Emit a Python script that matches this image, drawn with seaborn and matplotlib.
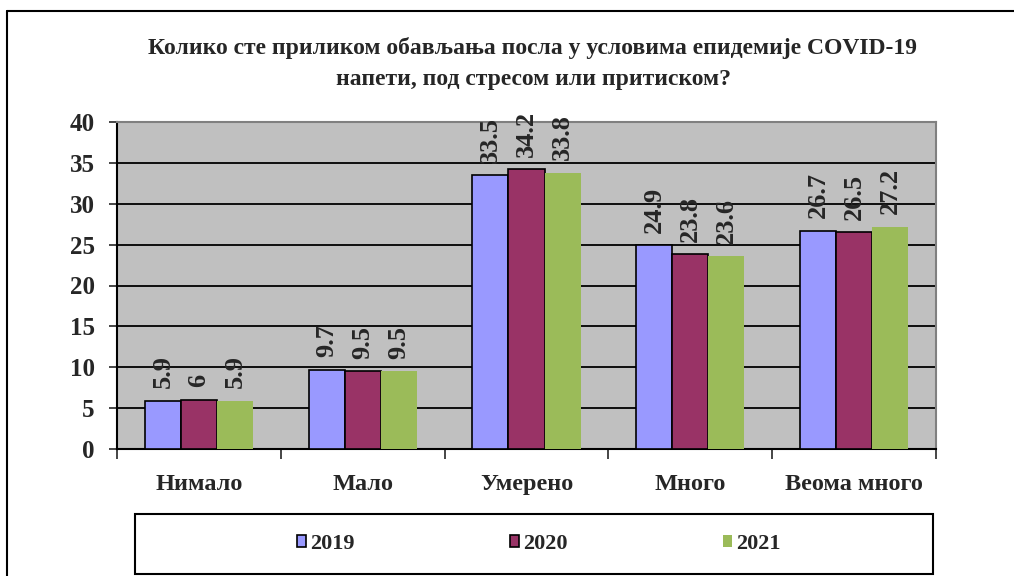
import pandas as pd
import matplotlib.pyplot as plt
import matplotlib.patches as mpatches
from matplotlib.lines import Line2D
import seaborn as sns

# Data
categories = ['Нимало', 'Мало', 'Умерено', 'Много', 'Веома много']
years = ['2019', '2020', '2021']
v2019 = [5.9, 9.7, 33.5, 24.9, 26.7]
v2020 = [6, 9.5, 34.2, 23.8, 26.5]
v2021 = [5.9, 9.5, 33.8, 23.6, 27.2]
colors = ['#9999FF', '#993366', '#9BBB59']
edges = ['black', 'black', 'none']

df = pd.DataFrame({
    'category': categories * 3,
    'year': [y for y in years for _ in categories],
    'value': v2019 + v2020 + v2021,
})

sns.set_style('white')
plt.rcParams['font.family'] = ['Liberation Serif', 'DejaVu Serif']
plt.rcParams['font.weight'] = 'bold'

fig = plt.figure(figsize=(10.14, 5.76), dpi=100)
ax = fig.add_axes([117 / 1014, 1 - 449 / 576, 819 / 1014, 327 / 576])
ax.set_facecolor('#C0C0C0')

sns.barplot(data=df, x='category', y='value', hue='year', order=categories,
            hue_order=years, palette=colors, width=0.66, saturation=1,
            edgecolor='black', linewidth=1.2, legend=False, ax=ax, zorder=3)

for cont, ec in zip(ax.containers, edges):
    for p in cont:
        p.set_edgecolor(ec)
    labels = ['%g' % v for v in cont.datavalues]
    ax.bar_label(cont, labels=labels, rotation=90, padding=9, fontsize=19,
                 fontweight='bold')

ax.set_ylim(0, 40)
ax.set_xlim(-0.5, 4.5)
ax.set_yticks(range(0, 41, 5))
ax.yaxis.grid(True, color='black', linewidth=1.3, zorder=0)
ax.set_axisbelow(True)
ax.set_xlabel('')
ax.set_ylabel('')

ax.tick_params(axis='y', length=6, width=1.2, pad=10, labelsize=18, left=True)
ax.tick_params(axis='x', which='major', length=0, pad=18, labelsize=17.5)
ax.set_xticks([-0.5, 0.5, 1.5, 2.5, 3.5, 4.5], minor=True)
ax.tick_params(axis='x', which='minor', length=7, width=1.2, bottom=True)

for s in ['top', 'right']:
    ax.spines[s].set_color('#808080')
    ax.spines[s].set_linewidth(1.5)
for s in ['left', 'bottom']:
    ax.spines[s].set_color('black')
    ax.spines[s].set_linewidth(1.5)

fig.text(533 / 1014, 1 - 48 / 576,
         'Колико сте приликом обављања посла у условима епидемије COVID-19',
         ha='center', va='center', fontsize=17, fontweight='bold')
fig.text(533 / 1014, 1 - 80 / 576, 'напети, под стресом или притиском?',
         ha='center', va='center', fontsize=17, fontweight='bold')

# legend box
fig.patches.append(mpatches.Rectangle((135 / 1014, 1 - 574 / 576), 798 / 1014, 60 / 576,
                                      transform=fig.transFigure, fill=False,
                                      edgecolor='black', linewidth=1.5))
handles = [mpatches.Patch(facecolor=c, edgecolor=e, linewidth=1.2)
           for c, e in zip(colors, edges)]
fig.legend(handles, years, loc='center', bbox_to_anchor=(539 / 1014, 1 - 544 / 576),
           ncol=3, frameon=False, handlelength=0.4, handleheight=0.4,
           handletextpad=0.18, columnspacing=7.0, prop={'weight': 'bold', 'size': 16})

# outer border (left and top edges visible)
fig.add_artist(Line2D([7 / 1014, 7 / 1014], [0, 1 - 11 / 576], transform=fig.transFigure,
                      color='black', linewidth=1.5))
fig.add_artist(Line2D([7 / 1014, 1], [1 - 11 / 576, 1 - 11 / 576], transform=fig.transFigure,
                      color='black', linewidth=1.5))

fig.savefig('out.png', dpi=100)
